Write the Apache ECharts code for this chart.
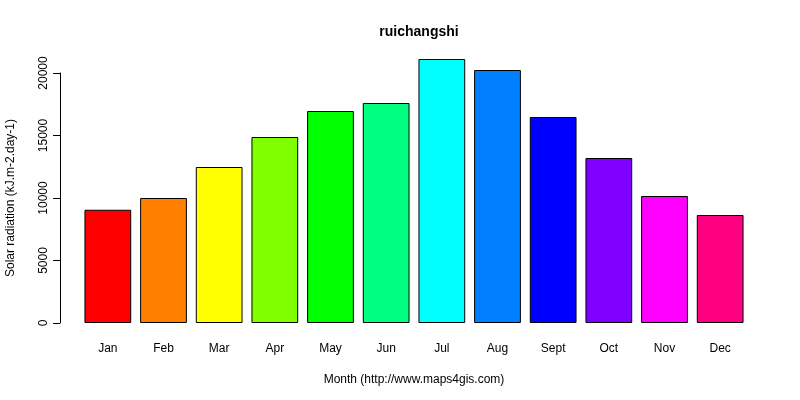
<!DOCTYPE html>
<html>
<head>
<meta charset="utf-8">
<script src="https://cdn.jsdelivr.net/npm/echarts@6/dist/echarts.min.js"></script>
<style>
  html, body { margin: 0; padding: 0; background: #fff; }
  #chart { width: 800px; height: 400px; }
</style>
</head>
<body>
<div id="chart"></div>
<script>
var months = ['Jan', 'Feb', 'Mar', 'Apr', 'May', 'Jun', 'Jul', 'Aug', 'Sept', 'Oct', 'Nov', 'Dec'];
var radiation = [9060, 10000, 12480, 14880, 16960, 17600, 21120, 20240, 16480, 13200, 10160, 8640];
var barColors = ['#FF0000', '#FF8000', '#FFFF00', '#80FF00', '#00FF00', '#00FF80',
                 '#00FFFF', '#0080FF', '#0000FF', '#8000FF', '#FF00FF', '#FF0080'];
var yTicks = [0, 5000, 10000, 15000, 20000];

var font = 'Liberation Sans, Arial, sans-serif';

var option = {
    animation: false,
    backgroundColor: '#fff',
    title: {
        text: 'ruichangshi',
        left: 414,
        top: 20,
        textAlign: 'center',
        textStyle: { fontFamily: font, fontSize: 14, fontWeight: 'bold', color: '#000' }
    },
    grid: {
        left: 80,
        top: 73,
        width: 668,
        height: 250,
        containLabel: false,
        outerBoundsMode: 'none'
    },
    xAxis: {
        type: 'category',
        data: months,
        name: 'Month (http://www.maps4gis.com)',
        nameLocation: 'middle',
        nameGap: 51,
        nameTextStyle: { fontFamily: font, fontSize: 12, color: '#000' },
        axisLine: { show: false },
        axisTick: { show: false },
        axisLabel: { margin: 20, fontFamily: font, fontSize: 12, color: '#000' }
    },
    yAxis: {
        type: 'value',
        min: yTicks[0],
        max: yTicks[yTicks.length - 1],
        interval: 5000,
        offset: 20,
        name: 'Solar radiation (kJ.m-2.day-1)',
        nameLocation: 'middle',
        nameGap: 43,
        nameTextStyle: { fontFamily: font, fontSize: 12, color: '#000' },
        axisLine: { show: true, lineStyle: { color: '#000', width: 1 } },
        axisTick: { show: true, length: 7, lineStyle: { color: '#000' } },
        splitLine: { show: false },
        axisLabel: {
            rotate: 90,
            margin: 16,
            fontFamily: font,
            fontSize: 12,
            color: '#000',
            verticalAlign: 'middle',
            align: 'center',
            formatter: function (v) { return String(v); }
        }
    },
    series: [{
        type: 'bar',
        clip: false,
        barCategoryGap: '16%',
        data: radiation.map(function (v, i) {
            return { value: v, itemStyle: { color: barColors[i] } };
        }),
        itemStyle: { borderColor: '#000', borderWidth: 1 }
    }]
};

var mychart = echarts.init(document.getElementById('chart'));
mychart.setOption(option);
window.addEventListener('resize', function () {
    mychart.resize();
});
</script>
</body>
</html>
